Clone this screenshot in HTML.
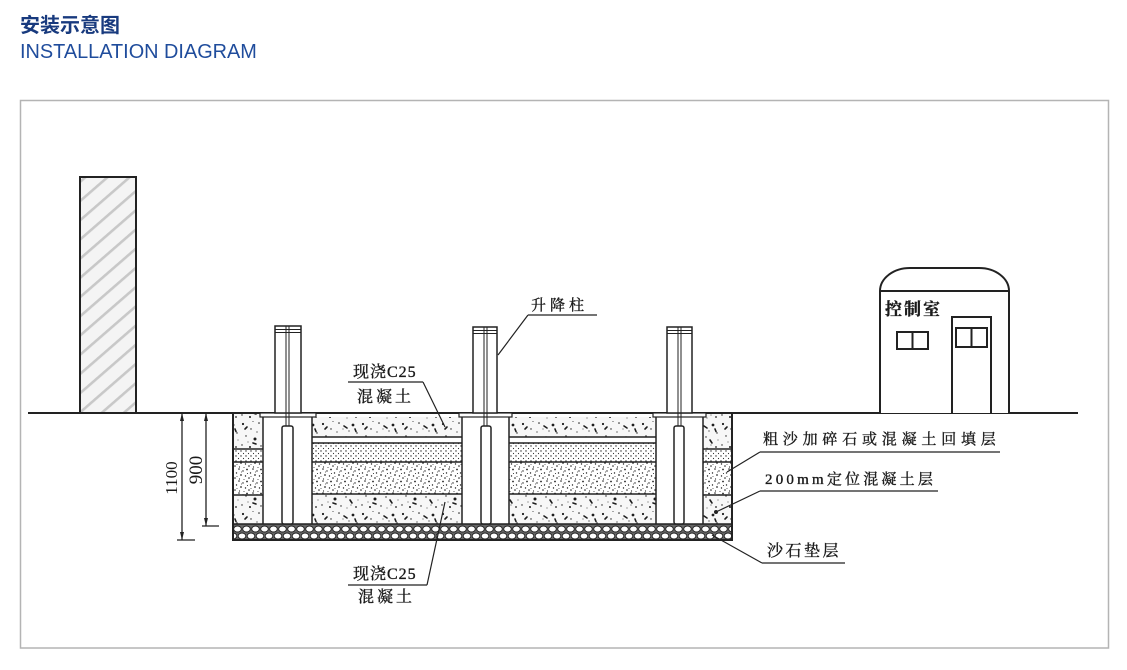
<!DOCTYPE html>
<html><head><meta charset="utf-8">
<style>
html,body{margin:0;padding:0;background:#fff;}
body{width:1127px;height:670px;overflow:hidden;}
svg{display:block;}
.cn{font-family:"Liberation Serif","Noto Serif CJK SC","Noto Sans CJK SC",serif;fill:#1a1a1a;stroke:#1a1a1a;stroke-width:0.35;}
</style></head>
<body>
<svg width="1127" height="670" viewBox="0 0 1127 670" xmlns="http://www.w3.org/2000/svg">
<defs>
  <pattern id="hatch" patternUnits="userSpaceOnUse" width="14" height="14.5" patternTransform="rotate(-41)">
    <rect width="14" height="14.5" fill="#f4f4f4"/>
    <rect x="0" y="0" width="14" height="2.6" fill="#c8c8c8"/>
  </pattern>
  <pattern id="sp" patternUnits="userSpaceOnUse" width="40" height="30">
    <rect width="40" height="30" fill="#f7f7f7"/>
    <g fill="#1e1e1e">
      <circle cx="3" cy="4" r="1.1"/>
      <circle cx="11" cy="9" r="0.7"/>
      <circle cx="19" cy="3" r="0.8"/>
      <circle cx="33" cy="5" r="1.4"/>
      <circle cx="37" cy="13" r="0.7"/>
      <circle cx="6" cy="16" r="0.7"/>
      <circle cx="15" cy="19" r="1.5"/>
      <circle cx="26" cy="17" r="0.7"/>
      <circle cx="2" cy="25" r="0.7"/>
      <circle cx="10" cy="27" r="1"/>
      <circle cx="21" cy="26" r="0.7"/>
      <circle cx="36" cy="27" r="0.9"/>
      <circle cx="17" cy="12" r="0.6"/>
      <circle cx="29" cy="11" r="0.6"/>
      <circle cx="8" cy="22" r="0.5"/>
      <circle cx="31" cy="25" r="0.55"/>
      <circle cx="23" cy="9" r="0.55"/>
      <circle cx="38" cy="20" r="0.5"/>
      <circle cx="13" cy="1.5" r="0.5"/>
      <circle cx="27" cy="28" r="0.5"/>
    </g>
    <g stroke="#1e1e1e" stroke-width="1.6" fill="none" stroke-linecap="round">
      <path d="M24 6 l3 2"/>
      <path d="M30 20 l2 3"/>
      <path d="M5 9 l2 -2"/>
      <path d="M13 23 l3 1"/>
      <path d="M35 9 l1 2.5"/>
    </g>
  </pattern>
  <pattern id="fine" patternUnits="userSpaceOnUse" width="5" height="5">
    <rect width="5" height="5" fill="#fff"/>
    <circle cx="1" cy="1" r="0.7" fill="#2a2a2a"/>
    <circle cx="3.5" cy="3.5" r="0.6" fill="#333"/>
  </pattern>
  <pattern id="dense" patternUnits="userSpaceOnUse" width="14" height="12">
    <rect width="14" height="12" fill="#fff"/>
    <g fill="#222">
      <circle cx="1" cy="1" r="0.8"/>
      <circle cx="5" cy="3" r="0.7"/>
      <circle cx="9" cy="1.5" r="0.9"/>
      <circle cx="12.5" cy="5" r="0.7"/>
      <circle cx="3" cy="7" r="0.85"/>
      <circle cx="7.5" cy="8" r="0.7"/>
      <circle cx="11" cy="10" r="0.8"/>
      <circle cx="1.5" cy="11" r="0.6"/>
      <circle cx="6" cy="11.5" r="0.5"/>
      <circle cx="9.5" cy="5.5" r="0.55"/>
      <circle cx="3.5" cy="4" r="0.45"/>
      <circle cx="13" cy="8.5" r="0.45"/>
    </g>
  </pattern>
  <pattern id="gravel" patternUnits="userSpaceOnUse" width="9" height="15" patternTransform="translate(233,525)">
    <rect width="9" height="15" fill="#666"/>
    <g fill="#fff" stroke="#222" stroke-width="0.9">
      <ellipse cx="4.5" cy="4" rx="3.8" ry="3"/>
      <ellipse cx="0" cy="11" rx="3.8" ry="3"/>
      <ellipse cx="9" cy="11" rx="3.8" ry="3"/>
    </g>
  </pattern>
</defs>

<!-- Header -->
<text x="20" y="32" font-family="'Liberation Sans','Noto Sans CJK SC',sans-serif" font-weight="bold" font-size="20" fill="#183a7e">安装示意图</text>
<text x="20" y="58" font-family="'Liberation Sans',sans-serif" font-size="19.9" fill="#1f4c9c">INSTALLATION DIAGRAM</text>

<!-- Frame -->
<rect x="20.5" y="100.5" width="1088" height="547.5" fill="none" stroke="#b4b4b4" stroke-width="1.5"/>

<!-- Wall -->
<rect x="80" y="177" width="56" height="236" fill="url(#hatch)" stroke="#222" stroke-width="2"/>

<!-- Fill regions -->
<rect x="233" y="414" width="30" height="35" fill="url(#sp)"/>
<rect x="233" y="449" width="30" height="13" fill="url(#fine)"/>
<rect x="233" y="462" width="30" height="33" fill="url(#dense)"/>
<rect x="233" y="495" width="30" height="29" fill="url(#sp)"/>
<rect x="703" y="414" width="29" height="35" fill="url(#sp)"/>
<rect x="703" y="449" width="29" height="13" fill="url(#fine)"/>
<rect x="703" y="462" width="29" height="33" fill="url(#dense)"/>
<rect x="703" y="495" width="29" height="29" fill="url(#sp)"/>
<rect x="312" y="417" width="150" height="20" fill="url(#sp)"/>
<rect x="312" y="443" width="150" height="19" fill="url(#fine)"/>
<rect x="312" y="462" width="150" height="32" fill="url(#dense)"/>
<rect x="312" y="494" width="150" height="30" fill="url(#sp)"/>
<rect x="509" y="417" width="147" height="20" fill="url(#sp)"/>
<rect x="509" y="443" width="147" height="19" fill="url(#fine)"/>
<rect x="509" y="462" width="147" height="32" fill="url(#dense)"/>
<rect x="509" y="494" width="147" height="30" fill="url(#sp)"/>

<!-- Gravel -->
<rect x="233" y="524" width="499" height="16" fill="url(#gravel)"/>

<g stroke="#222" fill="none">
  <g stroke-width="1.5">
    <path d="M233 449H263M233 462H263M233 495H263"/>
    <path d="M703 449H732M703 462H732M703 495H732"/>
    <path d="M312 437H462M312 443H462M312 462H462M312 494H462"/>
    <path d="M509 437H656M509 443H656M509 462H656M509 494H656"/>
    <path d="M233 524H732"/>
    <path d="M263 416V524M312 416V524M462 416V524M509 416V524M656 416V524M703 416V524"/>
  </g>
  <path d="M233 413V540H732V413" stroke-width="2"/>
  <path d="M28 413H1078" stroke-width="2"/>
</g>

<!-- cap plates -->
<g fill="#fff" stroke="#222" stroke-width="1.2">
  <rect x="260" y="413" width="56" height="4"/>
  <rect x="459" y="413" width="53" height="4"/>
  <rect x="653" y="413" width="53" height="4"/>
</g>

<!-- inner tubes -->
<g fill="#fff" stroke="#222" stroke-width="1.5">
  <rect x="282" y="426" width="11" height="98" rx="2"/>
  <rect x="481" y="426" width="10" height="98" rx="2"/>
  <rect x="674" y="426" width="10" height="98" rx="2"/>
</g>

<!-- bollards -->
<g fill="#fff" stroke="#222" stroke-width="1.5">
  <rect x="275" y="326" width="26" height="87"/>
  <rect x="473" y="327" width="24" height="86"/>
  <rect x="667" y="327" width="25" height="86"/>
</g>
<g stroke="#222" stroke-width="1" fill="none">
  <path d="M275 329.5H301M275 332.5H301"/>
  <path d="M473 330.5H497M473 333.5H497"/>
  <path d="M667 330.5H692M667 333.5H692"/>
  <path d="M286 326V426M289 326V426"/>
  <path d="M484 327V426M487 327V426"/>
  <path d="M678 327V426M681 327V426"/>
</g>

<!-- Dimension lines -->
<g stroke="#222" stroke-width="1.3" fill="none">
  <path d="M182 413V540M177 540H195"/>
  <path d="M206 413V526M202 526H219"/>
</g>
<g fill="#222">
  <polygon points="182,413 180,421 184,421"/>
  <polygon points="182,540 180,532 184,532"/>
  <polygon points="206,413 204,421 208,421"/>
  <polygon points="206,526 204,518 208,518"/>
</g>
<text transform="translate(177,478) rotate(-90)" text-anchor="middle" font-family="'Liberation Serif',serif" font-size="17" fill="#1a1a1a">1100</text>
<text transform="translate(202,470) rotate(-90)" text-anchor="middle" font-family="'Liberation Serif',serif" font-size="19" fill="#1a1a1a">900</text>

<!-- Building -->
<g stroke="#222" stroke-width="2" fill="#fff">
  <path d="M880 413V291A30 23 0 0 1 910 268H979A30 23 0 0 1 1009 291V413"/>
</g>
<g stroke="#222" stroke-width="2" fill="none">
  <path d="M880 291H1009"/>
  <rect x="897" y="332" width="31" height="17"/>
  <path d="M912.5 332V349"/>
  <path d="M952 413V317H991V413"/>
  <rect x="956" y="328" width="31" height="19"/>
  <path d="M971.5 328V347"/>
</g>
<text class="cn" x="885" y="315" font-size="17" letter-spacing="2" font-weight="bold">控制室</text>

<!-- Leaders -->
<g stroke="#222" stroke-width="1.2" fill="none">
  <path d="M528 315H597M528 315L498 355"/>
  <path d="M348 382H423M423 382L445 427"/>
  <path d="M348 585H427M427 585L445 502"/>
  <path d="M760 452H1000M760 452L727 472"/>
  <path d="M760 491H938M760 491L716 512"/>
  <path d="M762 563H845M762 563L712 535"/>
</g>
<circle cx="716" cy="512" r="2" fill="#222"/>

<!-- Labels -->
<text class="cn" x="531" y="310" font-size="15" letter-spacing="4">升降柱</text>
<text class="cn" x="353" y="377" font-size="16" letter-spacing="1">现浇C25</text>
<text class="cn" x="357" y="402" font-size="16" letter-spacing="3">混凝土</text>
<text class="cn" x="353" y="579" font-size="16" letter-spacing="1">现浇C25</text>
<text class="cn" x="358" y="602" font-size="16" letter-spacing="3">混凝土</text>
<text class="cn" x="763" y="444" font-size="15" letter-spacing="4.8">粗沙加碎石或混凝土回填层</text>
<text class="cn" x="765" y="484" font-size="15" letter-spacing="3.2">200mm定位混凝土层</text>
<text class="cn" x="767" y="556" font-size="16" letter-spacing="2.5">沙石垫层</text>
</svg>
</body></html>
